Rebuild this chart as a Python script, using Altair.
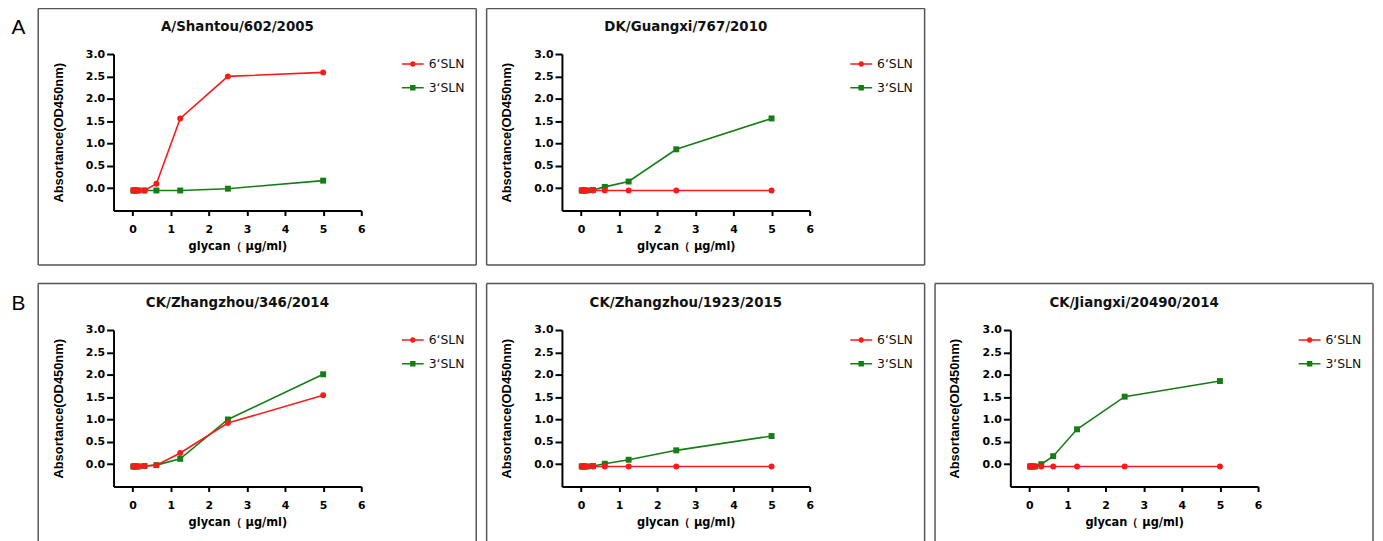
import altair as alt
import pandas as pd

# ---------------- data ----------------
x_vals = [0.0195, 0.039, 0.078, 0.156, 0.3125, 0.625, 1.25, 2.5, 5]

titles = ["A/Shantou/602/2005", "DK/Guangxi/767/2010",
          "CK/Zhangzhou/346/2014", "CK/Zhangzhou/1923/2015", "CK/Jiangxi/20490/2014"]

sln6_a1 = [-0.05, -0.05, -0.05, -0.05, -0.05, 0.10, 1.56, 2.50, 2.59]
sln3_a1 = [-0.05, -0.05, -0.05, -0.05, -0.05, -0.05, -0.05, -0.01, 0.17]

sln6_a2 = [-0.05, -0.05, -0.05, -0.05, -0.05, -0.05, -0.05, -0.05, -0.05]
sln3_a2 = [-0.05, -0.05, -0.05, -0.05, -0.04, 0.03, 0.15, 0.87, 1.56]

sln6_b1 = [-0.05, -0.05, -0.05, -0.05, -0.04, -0.02, 0.25, 0.92, 1.54]
sln3_b1 = [-0.05, -0.05, -0.05, -0.05, -0.04, -0.02, 0.12, 1.00, 2.01]

sln6_b2 = [-0.05, -0.05, -0.05, -0.05, -0.05, -0.05, -0.05, -0.05, -0.05]
sln3_b2 = [-0.05, -0.05, -0.05, -0.05, -0.04, 0.01, 0.10, 0.31, 0.63]

sln6_b3 = [-0.05, -0.05, -0.05, -0.05, -0.05, -0.05, -0.05, -0.05, -0.05]
sln3_b3 = [-0.05, -0.05, -0.05, -0.05, 0.00, 0.18, 0.78, 1.51, 1.86]

x_ticks = [0, 1, 2, 3, 4, 5, 6]
y_ticks = [0.0, 0.5, 1.0, 1.5, 2.0, 2.5, 3.0]

SER6 = "6\u2018SLN"
SER3 = "3\u2018SLN"
X_TITLE = "glycan\uff08 \u03bcg/ml)"
Y_TITLE = "Absortance(OD450nm)"

# ---------------- style ----------------
RED = "#fa1a1a"
GREEN = "#167d16"
FRAME = "#555555"
W, H = 250, 158
FX1, FX2 = -76, 366

circle_path = "M-1,-0.07H1V0.07H-1Z M-0.25,0A0.25,0.25 0 1,1 0.25,0A0.25,0.25 0 1,1 -0.25,0Z"
square_path = "M-1,-0.07H1V0.07H-1Z M-0.25,-0.25H0.25V0.25H-0.25Z"

one = pd.DataFrame({"k": [0]})


def rule(x1, y1, x2, y2):
    return alt.Chart(one).mark_rule(stroke=FRAME, strokeWidth=1.5).encode(
        x=alt.value(x1), y=alt.value(y1), x2=alt.value(x2), y2=alt.value(y2))


def panel(title, y6, y3, letter=None, top=-46, bottom=213, closed=True):
    df = pd.DataFrame({
        "x": x_vals + x_vals,
        "y": y3 + y6,
        "s": [SER3] * len(x_vals) + [SER6] * len(x_vals),
    })
    xenc = alt.X("x:Q", scale=alt.Scale(domain=[-0.5, 6], nice=False, zero=False),
                 axis=alt.Axis(values=x_ticks, format="d", title=X_TITLE, grid=False,
                               domainColor="black", domainWidth=2, tickColor="black",
                               tickWidth=2, tickSize=5, labelPadding=8, labelFlush=False,
                               labelFont="DejaVu Sans", labelFontWeight="bold",
                               labelFontSize=11, labelColor="black",
                               titleFont="DejaVu Sans", titleFontWeight="bold",
                               titleFontSize=11.5, titleColor="black",
                               titleX=W / 2, titleY=36, titleBaseline="middle",
                               titleAlign="center"))
    yenc = alt.Y("y:Q", scale=alt.Scale(domain=[-0.5, 3.0], nice=False, zero=False),
                 axis=alt.Axis(values=y_ticks, format=".1f", title=Y_TITLE, grid=False,
                               domainColor="black", domainWidth=2, tickColor="black",
                               tickWidth=2, tickSize=7, labelPadding=2, labelFlush=False,
                               labelFont="DejaVu Sans", labelFontWeight="bold",
                               labelFontSize=11, labelColor="black",
                               titleFont="Liberation Sans", titleFontWeight="bold",
                               titleFontSize=13, titleColor="black",
                               titleX=-56, titleY=H / 2, titleAngle=270,
                               titleBaseline="middle", titleAlign="center"))
    legend = alt.Legend(
        title=None, orient="none", legendX=291, legendY=-1, symbolSize=484,
        symbolStrokeWidth=0, symbolOpacity=1,
        labelFont="DejaVu Sans", labelFontSize=12.5, labelColor="#111111",
        labelOffset=5, rowPadding=6, padding=0)

    def cscale():
        return alt.Scale(domain=[SER6, SER3], range=[RED, GREEN])

    color = alt.Color("s:N", scale=cscale(), legend=None)
    shape = alt.Shape("s:N", scale=alt.Scale(domain=[SER6, SER3], range=["circle", "square"]),
                      legend=None)
    lcolor = alt.Color("s:N", scale=cscale(), legend=legend)
    lshape = alt.Shape("s:N", scale=alt.Scale(domain=[SER6, SER3],
                                              range=[circle_path, square_path]),
                       legend=legend)
    base = alt.Chart(df)
    lines = base.mark_line(strokeWidth=1.6).encode(x=xenc, y=yenc, color=color)
    pts = base.mark_point(filled=True, size=36, opacity=1).encode(
        x=xenc, y=yenc, color=color, shape=shape)
    # legend carrier: invisible marks that only provide the legend entries
    leg = alt.Chart(pd.DataFrame({"s": [SER6, SER3]})).mark_point(filled=True).encode(
        x=alt.value(W / 2), y=alt.value(H / 2), color=lcolor, shape=lshape,
        opacity=alt.value(0))

    layers = [rule(FX1, top, FX2, top), rule(FX1, top, FX1, bottom), rule(FX2, top, FX2, bottom)]
    if closed:
        layers.append(rule(FX1, bottom, FX2, bottom))
    ttl = alt.Chart(one).mark_text(text=title, font="DejaVu Sans", fontWeight="bold",
                                   fontSize=13.5, color="#111111", align="center",
                                   baseline="middle").encode(
        x=alt.value(W / 2), y=alt.value(-27))
    layers.append(ttl)
    if letter:
        lab = alt.Chart(one).mark_text(text=letter, font="Liberation Sans", fontSize=21,
                                       color="black", align="center",
                                       baseline="middle").encode(
            x=alt.value(-96), y=alt.value(-26))
        layers.append(lab)
    layers += [lines, pts, leg]
    return (alt.layer(*layers).resolve_scale(shape="independent", color="independent")
            .properties(width=W, height=H))


pA1 = panel(titles[0], sln6_a1, sln3_a1, letter="A")
pA2 = panel(titles[1], sln6_a2, sln3_a2)
pB1 = panel(titles[2], sln6_b1, sln3_b1, letter="B", top=-47, closed=False)
pB2 = panel(titles[3], sln6_b2, sln3_b2, top=-47, closed=False)
pB3 = panel(titles[4], sln6_b3, sln3_b3, top=-47, closed=False)

rowA = alt.hconcat(pA1, pA2, spacing=6.5).resolve_scale(color="independent", shape="independent")
rowB = alt.hconcat(pB1, pB2, pB3, spacing=6.5).resolve_scale(color="independent", shape="independent")

chart = (alt.vconcat(rowA, rowB, spacing=14.5)
         .resolve_scale(color="independent", shape="independent")
         .properties(padding={"left": 2.5, "top": -4, "right": 0, "bottom": 0}, background="white")
         .configure_view(stroke="transparent"))

chart.save("out.html", embed_options={"renderer": "svg", "actions": False})
